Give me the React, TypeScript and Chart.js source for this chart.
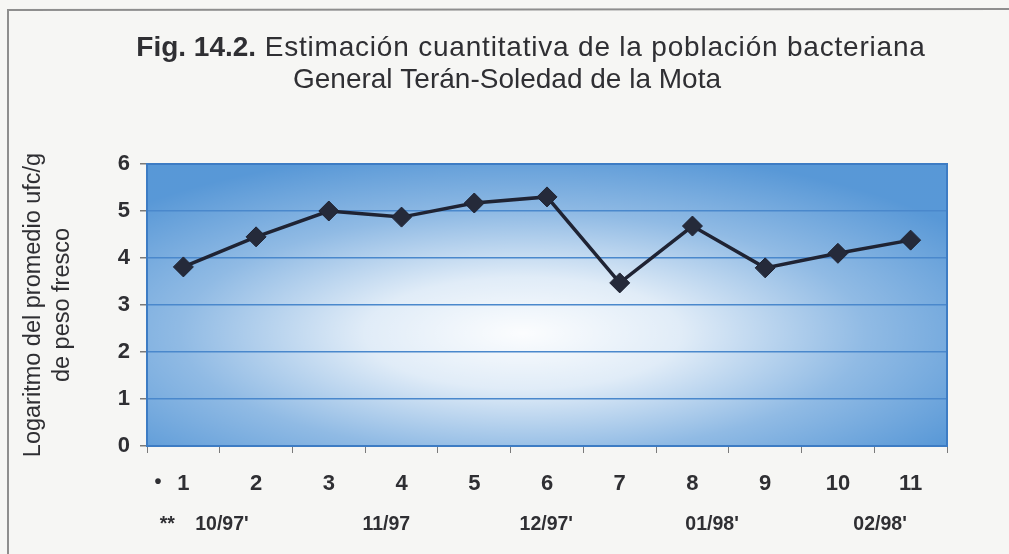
import React, { useEffect, useRef } from 'react';
import { Chart, registerables } from 'chart.js';

Chart.register(...registerables);

// ---- data ----
const sampleLabels = ['1', '2', '3', '4', '5', '6', '7', '8', '9', '10', '11'];
const logUfc = [3.81, 4.45, 5.0, 4.87, 5.17, 5.3, 3.47, 4.68, 3.79, 4.1, 4.38];
const yMin = 0;
const yMax = 6;
const yStep = 1;
// second label row (months), placed at fractional sample index
const monthLabels = ['**', "10/97'", '11/97', "12/97'", "01/98'", "02/98'"];
const monthAt = [-0.22, 0.53, 2.79, 4.99, 7.27, 9.58];
const bulletMark = '•';
const bulletAt = -0.35;
const titleBold = 'Fig. 14.2.';
const titleRest = ' Estimación cuantitativa de la población bacteriana';
const titleLine2 = 'General Terán-Soledad de la Mota';
const yTitle = ['Logaritmo del promedio ufc/g', 'de peso fresco'];

const FONT = '"Liberation Sans", Arial, Helvetica, sans-serif';
const TEXT = '#2f2f33';

const decor = {
  id: 'decor',
  beforeDraw(chart: any) {
    const { ctx, chartArea: a, width, height } = chart;
    ctx.save();
    ctx.fillStyle = '#f6f6f4';
    ctx.fillRect(0, 0, width, height);
    // scanned frame
    ctx.strokeStyle = '#8e8e8e';
    ctx.lineWidth = 2;
    ctx.beginPath();
    ctx.moveTo(8, height);
    ctx.lineTo(8, 10);
    ctx.lineTo(width, 9);
    ctx.stroke();

    // plot background
    const w = a.right - a.left;
    const h = a.bottom - a.top;
    ctx.fillStyle = '#5596d6';
    ctx.fillRect(a.left, a.top, w, h);
    const cx = a.left + 0.47 * w;
    const cy = a.top + 0.6 * h;
    const rx = 0.66 * w;
    const ry = 0.66 * h;
    ctx.save();
    ctx.translate(cx, cy);
    ctx.scale(rx, ry);
    const g = ctx.createRadialGradient(0, 0, 0, 0, 0, 1);
    g.addColorStop(0, 'rgba(255,255,255,0.98)');
    g.addColorStop(0.3, 'rgba(255,255,255,0.82)');
    g.addColorStop(0.65, 'rgba(255,255,255,0.35)');
    g.addColorStop(1, 'rgba(255,255,255,0.02)');
    ctx.fillStyle = g;
    ctx.fillRect((a.left - cx) / rx, (a.top - cy) / ry, w / rx, h / ry);
    ctx.restore();

    // title
    ctx.fillStyle = TEXT;
    ctx.textBaseline = 'alphabetic';
    ctx.textAlign = 'left';
    const boldFont = `bold 28px ${FONT}`;
    const regFont = `28px ${FONT}`;
    ctx.font = boldFont;
    const wb = ctx.measureText(titleBold).width;
    ctx.font = regFont;
    (ctx as any).letterSpacing = '0.8px';
    const wr = ctx.measureText(titleRest).width;
    const x1 = 531 - (wb + wr) / 2;
    ctx.fillText(titleRest, x1 + wb, 56);
    (ctx as any).letterSpacing = '0px';
    ctx.font = boldFont;
    ctx.fillText(titleBold, x1, 56);
    ctx.font = regFont;
    ctx.textAlign = 'center';
    ctx.fillText(titleLine2, 507, 88);
    ctx.restore();
  },
  beforeDatasetsDraw(chart: any) {
    const { ctx, chartArea: a } = chart;
    ctx.save();
    ctx.strokeStyle = '#3d7cc4';
    ctx.lineWidth = 2;
    ctx.strokeRect(a.left, a.top, a.right - a.left, a.bottom - a.top);
    ctx.restore();
  },
  afterDraw(chart: any) {
    const { ctx } = chart;
    const xs = chart.scales.x;
    ctx.save();
    ctx.fillStyle = TEXT;
    ctx.font = `bold 20px ${FONT}`;
    ctx.textAlign = 'center';
    ctx.textBaseline = 'middle';
    ctx.fillText(bulletMark, xs.getPixelForValue(bulletAt), 482);
    ctx.restore();
  },
};

export default function App() {
  const ref = useRef<HTMLCanvasElement | null>(null);
  useEffect(() => {
    if (!ref.current) return;
    const chart = new Chart(ref.current, {
      type: 'line',
      data: {
        labels: sampleLabels,
        datasets: [
          {
            data: logUfc,
            borderColor: '#1f2333',
            borderWidth: 3.5,
            pointStyle: 'rectRot',
            pointRadius: 10,
            pointBackgroundColor: '#252a3a',
            pointBorderColor: '#1f2333',
            pointBorderWidth: 1,
            tension: 0,
          },
        ],
      },
      options: {
        animation: false,
        responsive: true,
        maintainAspectRatio: false,
        layout: { padding: { top: 164, right: 62, left: 0, bottom: 0 } },
        plugins: { legend: { display: false }, tooltip: { enabled: false }, title: { display: false } },
        scales: {
          x: {
            type: 'category',
            position: 'bottom',
            offset: true,
            weight: 0,
            grid: { offset: true, drawOnChartArea: false, tickLength: 7, tickColor: '#7a7a7a', lineWidth: 1 },
            border: { display: false },
            ticks: {
              autoSkip: false,
              maxRotation: 0,
              padding: 18,
              color: TEXT,
              font: { family: FONT, size: 22, weight: 'bold' },
            },
            afterFit: (s: any) => {
              s.height = 50;
            },
          },
          x2: {
            type: 'linear',
            position: 'bottom',
            weight: 1,
            min: -0.5,
            max: 10.5,
            grid: { display: false },
            border: { display: false },
            afterBuildTicks: (s: any) => {
              s.ticks = monthAt.map((v) => ({ value: v }));
            },
            ticks: {
              autoSkip: false,
              maxRotation: 0,
              padding: 9,
              color: TEXT,
              font: { family: FONT, size: 19.5, weight: 'bold' },
              callback: (_v: any, i: number) => monthLabels[i],
            },
            afterFit: (s: any) => {
              s.height = 58;
            },
          },
          y: {
            type: 'linear',
            min: yMin,
            max: yMax,
            grid: {
              color: '#4a88cc',
              lineWidth: 1.5,
              tickLength: 7,
              tickColor: '#7a7a7a',
            },
            border: { display: false },
            ticks: {
              stepSize: yStep,
              padding: 10,
              color: TEXT,
              font: { family: FONT, size: 22, weight: 'bold' },
            },
            title: {
              display: true,
              text: yTitle,
              color: TEXT,
              padding: { top: 19, bottom: 0 },
              font: { family: FONT, size: 23.5, lineHeight: 1.23 },
            },
            afterFit: (s: any) => {
              s.width = 147;
            },
          },
        },
      },
      plugins: [decor],
    });
    return () => chart.destroy();
  }, []);
  return (
    <div style={{ position: 'absolute', left: 0, top: 0, width: 1009, height: 554 }}>
      <canvas ref={ref} />
    </div>
  );
}
